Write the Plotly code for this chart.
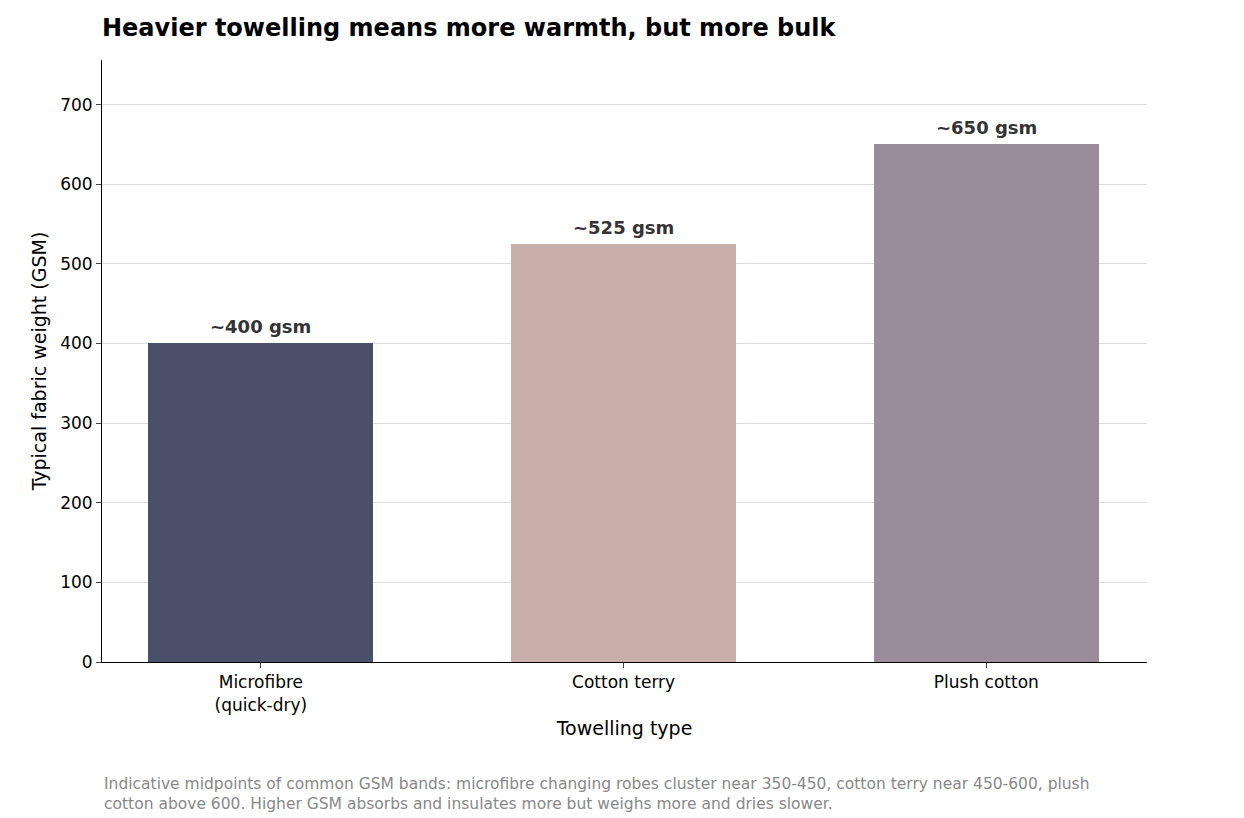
import plotly.graph_objects as go

categories = ["Microfibre<br>(quick-dry)", "Cotton terry", "Plush cotton"]
values = [400, 525, 650]
labels = ["~400 gsm", "~525 gsm", "~650 gsm"]
colors = ["#4b5069", "#c8aea8", "#9b8c9a"]
yticks = [0, 100, 200, 300, 400, 500, 600, 700]

fig = go.Figure(go.Bar(
    x=[0, 1, 2], y=values, marker_color=colors, width=0.62,
    marker_line_width=0,
))
anns = [dict(x=i, y=v, text="<b>%s</b>" % t, showarrow=False, yanchor="bottom",
             yshift=4, font=dict(size=18, color="#333333"))
        for i, (v, t) in enumerate(zip(values, labels))]
anns.append(dict(
    text="Indicative midpoints of common GSM bands: microfibre changing robes cluster near 350-450, cotton terry near 450-600, plush<br>cotton above 600. Higher GSM absorbs and insulates more but weighs more and dries slower.",
    xref="paper", yref="paper", x=0, y=-(784-654)/594, xanchor="left", yanchor="middle",
    align="left", showarrow=False, font=dict(size=15.5, color="#888888")))
fig.update_layout(
    width=1244, height=818, plot_bgcolor="white", paper_bgcolor="white",
    margin=dict(l=94, r=105, t=52, b=164),
    font=dict(family="DejaVu Sans", size=17, color="black"),
    title=dict(text="<b>Heavier towelling means more warmth, but more bulk</b>",
               x=94/1244, xanchor="left", y=1-20/818, yanchor="middle",
               font=dict(size=24, family="DejaVu Sans")),
    showlegend=False, bargap=0,
    xaxis=dict(range=[-0.438, 2.443], tickvals=[0, 1, 2], ticktext=categories,
               showline=True, linecolor="black", ticks="outside", ticklen=5,
               title=dict(text="Towelling type", font=dict(size=19), standoff=8),
               showgrid=False, zeroline=False),
    yaxis=dict(range=[0, 756], tickvals=yticks, showline=True, linecolor="black",
               ticks="outside", ticklen=5, gridcolor="#dddddd",
               title=dict(text="Typical fabric weight (GSM)", font=dict(size=19), standoff=8),
               zeroline=False),
    annotations=anns,
)
fig.write_html("out.html")
